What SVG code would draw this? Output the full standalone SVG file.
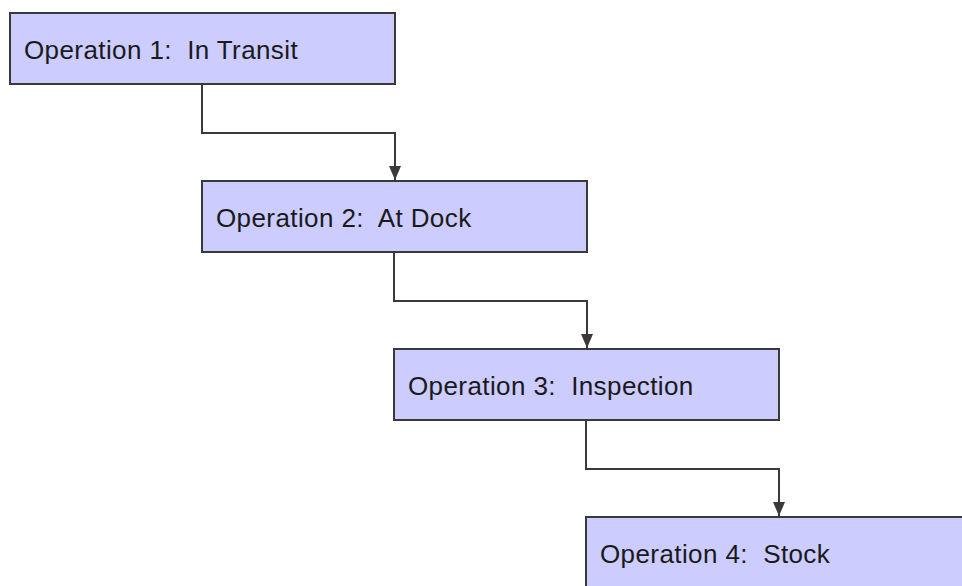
<svg xmlns="http://www.w3.org/2000/svg" width="962" height="586" viewBox="0 0 962 586">
<style>
.box{fill:#ccccff;stroke:#3a3a3a;stroke-width:2}
.lbl{font-family:"Liberation Sans",Arial,sans-serif;font-size:26px;letter-spacing:0.4px;fill:#1a1a1a;white-space:pre}
.con{fill:none;stroke:#3a3a3a;stroke-width:2}
</style>
<defs>
<marker id="arr" viewBox="0 0 14 12" refX="14" refY="6" markerWidth="14" markerHeight="12" markerUnits="userSpaceOnUse" orient="auto">
<path d="M0,0 L14,6 L0,12 z" fill="#3a3a3a"/>
</marker>
</defs>
<rect width="962" height="586" fill="#ffffff"/>
<g id="connectors">
<path class="con" d="M202,84 V133 H395 V180" marker-end="url(#arr)"/>
<path class="con" d="M394,252 V301 H587 V348" marker-end="url(#arr)"/>
<path class="con" d="M586,420 V469 H779 V516" marker-end="url(#arr)"/>
</g>
<g id="node1">
<rect class="box" x="10" y="13" width="385" height="71"/>
<text class="lbl" x="24" y="59" xml:space="preserve">Operation 1:  In Transit</text>
</g>
<g id="node2">
<rect class="box" x="202" y="181" width="385" height="71"/>
<text class="lbl" x="216" y="227" xml:space="preserve">Operation 2:  At Dock</text>
</g>
<g id="node3">
<rect class="box" x="394" y="349" width="385" height="71"/>
<text class="lbl" x="408" y="395" xml:space="preserve">Operation 3:  Inspection</text>
</g>
<g id="node4">
<rect class="box" x="586" y="517" width="385" height="71"/>
<text class="lbl" x="600" y="563" xml:space="preserve">Operation 4:  Stock</text>
</g>
</svg>
